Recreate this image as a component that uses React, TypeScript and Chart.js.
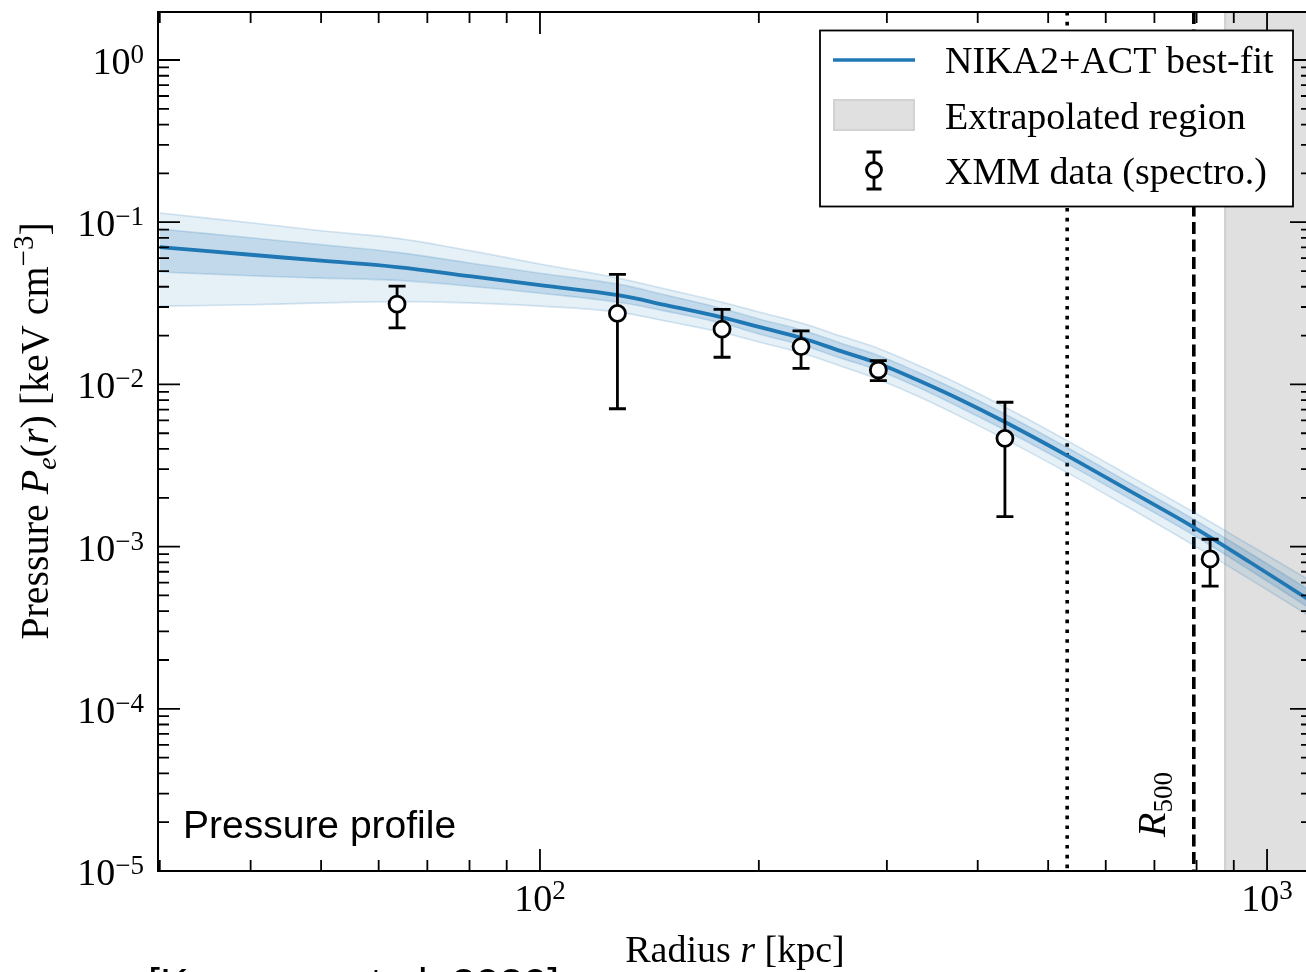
import React, { useEffect, useRef } from "react";
import { Chart, registerables } from "chart.js";

Chart.register(...registerables);

// ---------------- data ----------------
const radii = [30, 40, 50, 63.6, 80, 100, 128, 150, 178, 200, 229, 260, 292, 330, 380, 436, 531, 650, 793, 950, 1160];
const bestFit = [0.0703, 0.063, 0.0579, 0.0529, 0.0465, 0.0409, 0.0355, 0.0306, 0.0259, 0.02262, 0.01932, 0.01598, 0.01347, 0.01068, 0.00799, 0.00586, 0.00364, 0.00218, 0.001315, 0.000795, 0.00045];
const upper2 = [0.1139, 0.0992, 0.0886, 0.0795, 0.0668, 0.0553, 0.0452, 0.0384, 0.0321, 0.02799, 0.02391, 0.01978, 0.01667, 0.01322, 0.00989, 0.00725, 0.0045, 0.0027, 0.001627, 0.001012, 0.000598];
const upper1 = [0.0908, 0.0802, 0.0727, 0.0652, 0.0561, 0.0485, 0.0415, 0.0353, 0.0294, 0.02534, 0.02165, 0.0179, 0.01509, 0.01197, 0.00895, 0.00657, 0.00408, 0.00244, 0.001473, 0.000904, 0.000519];
const lower1 = [0.0493, 0.0468, 0.0452, 0.0438, 0.0403, 0.0365, 0.0321, 0.0281, 0.0238, 0.02048, 0.01749, 0.01447, 0.0122, 0.00967, 0.00713, 0.00523, 0.00325, 0.00195, 0.001174, 0.00071, 0.000402];
const lower2 = [0.0304, 0.031, 0.0318, 0.0324, 0.0318, 0.0304, 0.0279, 0.0244, 0.0209, 0.01828, 0.01561, 0.01291, 0.01073, 0.00851, 0.00628, 0.0046, 0.00286, 0.00171, 0.001018, 0.000624, 0.000359];

const xmmR = [63.6, 127.8, 178, 228.6, 292, 436, 835];
const xmmP = [0.0313, 0.0274, 0.0219, 0.0171, 0.01227, 0.00465, 0.000839];
const xmmHi = [0.0404, 0.0477, 0.029, 0.0214, 0.014, 0.00776, 0.00111];
const xmmLo = [0.0223, 0.00708, 0.0147, 0.01255, 0.01054, 0.00153, 0.000571];

const dottedR = 531;
const r500 = 793;
const extrapStart = 873;

const xMajorTicks = [100, 1000];
const xMinorTicks = [30, 40, 50, 60, 70, 80, 90, 200, 300, 400, 500, 600, 700, 800, 900];
const xTickExps = [2, 3];
const yTickExps = [-5, -4, -3, -2, -1, 0];
const yMinorMult = [2, 3, 4, 5, 6, 7, 8, 9];

const X_MIN = 29.83;
const X_MAX = 1153;
const Y_MIN = 1e-5;
const Y_MAX = 1.977;

const legendLabels = ["NIKA2+ACT best-fit", "Extrapolated region", "XMM data (spectro.)"];

// ---------------- helpers ----------------
const SERIF = '"Liberation Serif", "Times New Roman", serif';
const SANS = '"Liberation Sans", Arial, sans-serif';
const sf = (size: number, style = "") => `${style} ${size}px ${SERIF}`.trim();

type Seg = { t: string; f: string; dy?: number };
function segWidth(ctx: CanvasRenderingContext2D, segs: Seg[]) {
  let w = 0;
  for (const s of segs) {
    ctx.font = s.f;
    w += ctx.measureText(s.t).width;
  }
  return w;
}
function drawSegs(ctx: CanvasRenderingContext2D, segs: Seg[], x: number, y: number) {
  let cx = x;
  for (const s of segs) {
    ctx.font = s.f;
    ctx.fillText(s.t, cx, y + (s.dy || 0));
    cx += ctx.measureText(s.t).width;
  }
}
const expStr = (e: number) => (e < 0 ? "\u2212" + Math.abs(e) : String(e));

const W = 1330;
const H = 1010;
const AREA = { left: 158, top: 12, right: 1312, bottom: 871 };

const decorPlugin = {
  id: "decor",
  beforeDatasetsDraw(chart: any) {
    const ctx = chart.ctx as CanvasRenderingContext2D;
    const a = chart.chartArea;
    const xs = chart.scales.x;
    ctx.save();
    // extrapolated region
    const gx = xs.getPixelForValue(extrapStart);
    ctx.fillStyle = "#e0e0e0";
    ctx.fillRect(gx, a.top, a.right - gx, a.bottom - a.top);
    ctx.strokeStyle = "#d0d0d0";
    ctx.lineWidth = 2;
    ctx.beginPath();
    ctx.moveTo(gx + 1, a.top);
    ctx.lineTo(gx + 1, a.bottom);
    ctx.stroke();
    // vertical reference lines
    ctx.strokeStyle = "#000";
    ctx.lineWidth = 3.6;
    const dx = xs.getPixelForValue(dottedR);
    ctx.setLineDash([3.6, 6.2]);
    ctx.beginPath();
    ctx.moveTo(dx, a.top);
    ctx.lineTo(dx, a.bottom);
    ctx.stroke();
    const rx = xs.getPixelForValue(r500);
    ctx.setLineDash([12, 5.5]);
    ctx.beginPath();
    ctx.moveTo(rx, a.top);
    ctx.lineTo(rx, a.bottom);
    ctx.stroke();
    ctx.setLineDash([]);
    ctx.restore();
  },
  beforeDatasetDraw(chart: any, args: any) {
    if (args.index !== 5) return;
    const ctx = chart.ctx as CanvasRenderingContext2D;
    const xs = chart.scales.x;
    const ys = chart.scales.y;
    ctx.save();
    ctx.strokeStyle = "#000";
    ctx.lineWidth = 2.8;
    for (let i = 0; i < xmmR.length; i++) {
      const px = xs.getPixelForValue(xmmR[i]);
      const yh = ys.getPixelForValue(xmmHi[i]);
      const yl = ys.getPixelForValue(xmmLo[i]);
      ctx.beginPath();
      ctx.moveTo(px, yh);
      ctx.lineTo(px, yl);
      ctx.moveTo(px - 8.5, yh);
      ctx.lineTo(px + 8.5, yh);
      ctx.moveTo(px - 8.5, yl);
      ctx.lineTo(px + 8.5, yl);
      ctx.stroke();
    }
    ctx.restore();
  },
  afterDraw(chart: any) {
    const ctx = chart.ctx as CanvasRenderingContext2D;
    const a = chart.chartArea;
    const xs = chart.scales.x;
    const ys = chart.scales.y;
    ctx.save();
    ctx.fillStyle = "#000";
    ctx.strokeStyle = "#000";
    ctx.textAlign = "left";
    ctx.textBaseline = "alphabetic";

    // ticks
    ctx.lineWidth = 1.8;
    const MAJ = 22;
    const MIN = 11;
    const xt = (v: number, len: number) => {
      const p = xs.getPixelForValue(v);
      ctx.beginPath();
      ctx.moveTo(p, a.bottom);
      ctx.lineTo(p, a.bottom - len);
      ctx.moveTo(p, a.top);
      ctx.lineTo(p, a.top + len);
      ctx.stroke();
    };
    xMajorTicks.forEach((v) => xt(v, MAJ));
    xMinorTicks.forEach((v) => xt(v, MIN));
    const yt = (v: number, len: number) => {
      if (v > Y_MAX || v < Y_MIN) return;
      const p = ys.getPixelForValue(v);
      ctx.beginPath();
      ctx.moveTo(a.left, p);
      ctx.lineTo(a.left + len, p);
      ctx.moveTo(a.right, p);
      ctx.lineTo(a.right - len, p);
      ctx.stroke();
    };
    yTickExps.forEach((e) => {
      yt(Math.pow(10, e), MAJ);
      yMinorMult.forEach((m) => yt(m * Math.pow(10, e), MIN));
    });

    // spines
    ctx.lineWidth = 2;
    ctx.strokeRect(a.left, a.top, a.right - a.left, a.bottom - a.top);

    // tick labels
    xTickExps.forEach((e) => {
      const p = xs.getPixelForValue(Math.pow(10, e));
      const segs: Seg[] = [
        { t: "10", f: sf(38) },
        { t: expStr(e), f: sf(27), dy: -12 },
      ];
      const w = segWidth(ctx, segs);
      drawSegs(ctx, segs, p - w / 2, 911);
    });
    yTickExps.forEach((e) => {
      const p = ys.getPixelForValue(Math.pow(10, e));
      const segs: Seg[] = [
        { t: "10", f: sf(38) },
        { t: expStr(e), f: sf(27), dy: -11 },
      ];
      const w = segWidth(ctx, segs);
      drawSegs(ctx, segs, 144 - w, p + 14);
    });

    // x title
    const xt2: Seg[] = [
      { t: "Radius ", f: sf(38) },
      { t: "r", f: sf(38, "italic") },
      { t: " [kpc]", f: sf(38) },
    ];
    const xw = segWidth(ctx, xt2);
    drawSegs(ctx, xt2, (a.left + a.right) / 2 - xw / 2, 962);

    // y title
    const yt2: Seg[] = [
      { t: "Pressure ", f: sf(40) },
      { t: "P", f: sf(40, "italic") },
      { t: "e", f: sf(28, "italic"), dy: 8 },
      { t: "(", f: sf(40) },
      { t: "r", f: sf(40, "italic") },
      { t: ") [keV cm", f: sf(40) },
      { t: "\u22123", f: sf(29), dy: -15 },
      { t: "]", f: sf(40) },
    ];
    const yw = segWidth(ctx, yt2);
    ctx.save();
    ctx.translate(48, 431);
    ctx.rotate(-Math.PI / 2);
    drawSegs(ctx, yt2, -yw / 2, 0);
    ctx.restore();

    // R500 annotation
    ctx.save();
    ctx.translate(1165, 837);
    ctx.rotate(-Math.PI / 2);
    drawSegs(ctx, [
      { t: "R", f: sf(40, "italic") },
      { t: "500", f: sf(27), dy: 7 },
    ], 0, 0);
    ctx.restore();

    // panel label
    ctx.font = `39px ${SANS}`;
    ctx.fillText("Pressure profile", 183, 838);

    // clipped caption below figure
    ctx.font = `43px ${SANS}`;
    ctx.fillText("[Keruzore et al. 2020]", 148, 998);

    // legend
    const L = { x: 820, y: 30.5, w: 473, h: 176 };
    ctx.fillStyle = "#fff";
    ctx.fillRect(L.x, L.y, L.w, L.h);
    ctx.lineWidth = 1.8;
    ctx.strokeStyle = "#000";
    ctx.strokeRect(L.x, L.y, L.w, L.h);
    // row 1 line
    ctx.strokeStyle = "#1f77b4";
    ctx.lineWidth = 3.6;
    ctx.beginPath();
    ctx.moveTo(833, 60);
    ctx.lineTo(915, 60);
    ctx.stroke();
    // row 2 patch
    ctx.fillStyle = "#e0e0e0";
    ctx.fillRect(834, 100, 80, 30);
    ctx.strokeStyle = "#d2d2d2";
    ctx.lineWidth = 2;
    ctx.strokeRect(834, 100, 80, 30);
    // row 3 errorbar glyph
    ctx.strokeStyle = "#000";
    ctx.lineWidth = 2.8;
    ctx.beginPath();
    ctx.moveTo(874, 152);
    ctx.lineTo(874, 189);
    ctx.moveTo(866.5, 152);
    ctx.lineTo(881.5, 152);
    ctx.moveTo(866.5, 189);
    ctx.lineTo(881.5, 189);
    ctx.stroke();
    ctx.beginPath();
    ctx.arc(874, 170, 7.5, 0, Math.PI * 2);
    ctx.fillStyle = "#fff";
    ctx.fill();
    ctx.stroke();
    // texts
    ctx.fillStyle = "#000";
    ctx.font = sf(38);
    ctx.fillText(legendLabels[0], 945, 73);
    ctx.fillText(legendLabels[1], 945, 129);
    ctx.fillText(legendLabels[2], 945, 184);

    ctx.restore();
  },
};

export default function App() {
  const ref = useRef<HTMLCanvasElement | null>(null);
  useEffect(() => {
    if (!ref.current) return;
    const pts = (arr: number[]) => radii.map((r, i) => ({ x: r, y: arr[i] }));
    const bandOuter = "rgba(31,119,180,0.11)";
    const bandInner = "rgba(31,119,180,0.19)";
    const edge = "rgba(31,119,180,0.18)";
    const common = {
      pointRadius: 0,
      borderWidth: 1.6,
      borderColor: edge,
      tension: 0.4,
      clip: 0,
    };
    const chart = new Chart(ref.current, {
      type: "line",
      data: {
        datasets: [
          { ...common, label: "u2", data: pts(upper2), fill: "+3", backgroundColor: bandOuter, order: 4 },
          { ...common, label: "u1", data: pts(upper1), fill: "+1", backgroundColor: bandInner, order: 3 },
          { ...common, label: "l1", data: pts(lower1), fill: false, order: 3 },
          { ...common, label: "l2", data: pts(lower2), fill: false, order: 4 },
          {
            label: legendLabels[0],
            data: pts(bestFit),
            borderColor: "#1f77b4",
            borderWidth: 3.8,
            pointRadius: 0,
            fill: false,
            tension: 0.4,
            clip: 0,
            order: 1,
          },
          {
            label: legendLabels[2],
            data: xmmR.map((r, i) => ({ x: r, y: xmmP[i] })),
            showLine: false,
            pointRadius: 8,
            pointBackgroundColor: "#fff",
            pointBorderColor: "#000",
            pointBorderWidth: 2.8,
            order: 0,
          },
        ],
      },
      options: {
        responsive: false,
        animation: false,
        devicePixelRatio: 1,
        layout: {
          padding: {
            left: AREA.left,
            top: AREA.top,
            right: W - AREA.right,
            bottom: H - AREA.bottom,
          },
        },
        scales: {
          x: { type: "logarithmic", min: X_MIN, max: X_MAX, display: false, bounds: "data" },
          y: { type: "logarithmic", min: Y_MIN, max: Y_MAX, display: false, bounds: "data" },
        },
        plugins: {
          legend: { display: false },
          tooltip: { enabled: false },
        },
      },
      plugins: [decorPlugin],
    } as any);
    return () => chart.destroy();
  }, []);
  return (
    <div
      style={{
        position: "fixed",
        left: 0,
        top: 0,
        width: 1306,
        height: 972,
        overflow: "hidden",
        background: "#fff",
      }}
    >
      <canvas ref={ref} width={W} height={H} style={{ display: "block" }} />
    </div>
  );
}
